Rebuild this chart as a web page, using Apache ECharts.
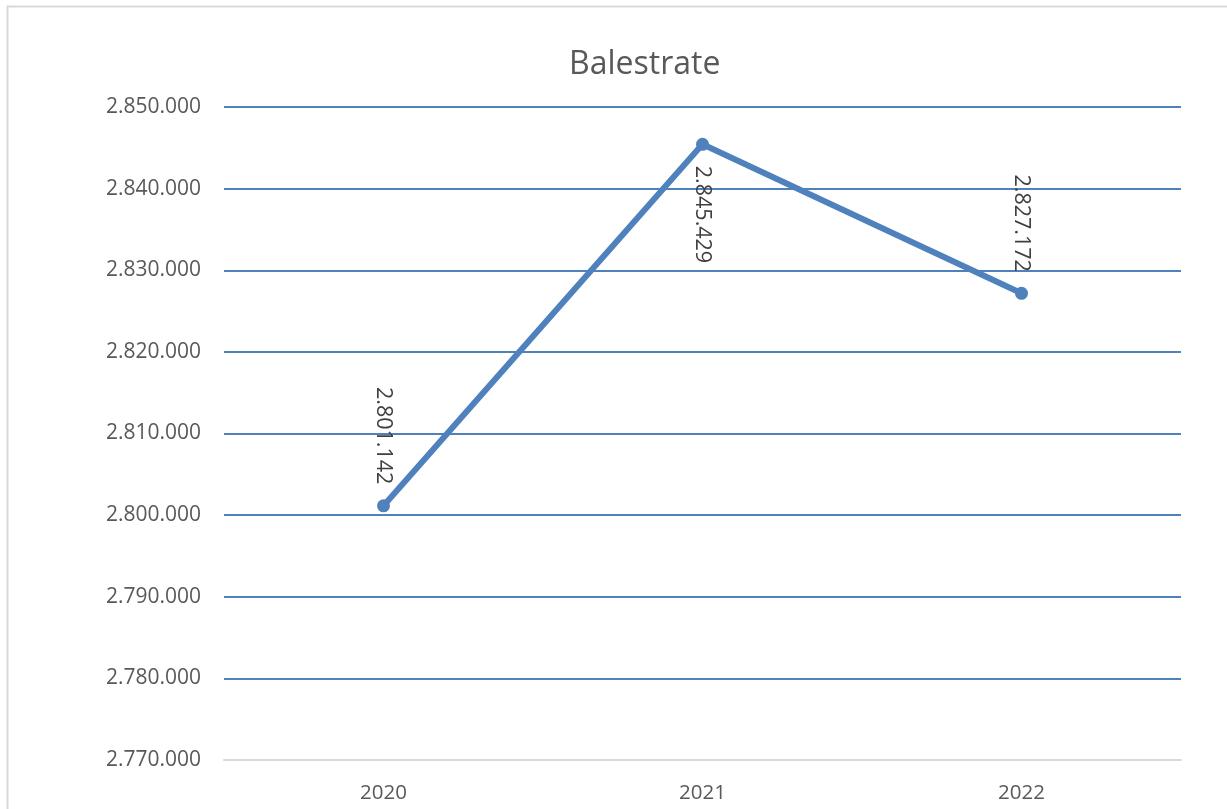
<!DOCTYPE html>
<html>
<head>
<meta charset="utf-8">
<script src="https://cdn.jsdelivr.net/npm/echarts@6/dist/echarts.min.js"></script>
<style>
html,body{margin:0;padding:0;background:#fff;}
#c{width:1227px;height:809px;}
</style>
</head>
<body>
<div id="c"></div>
<script>
const titleText = 'Balestrate';
const categories = ['2020', '2021', '2022'];
const values = [2801142, 2845429, 2827172];
const labelPositions = ['top', 'bottom', 'top'];
const yMin = 2770000, yMax = 2850000, yStep = 10000;

function fmt(v) {
  return String(Math.round(v)).replace(/\B(?=(\d{3})+(?!\d))/g, '.');
}

const chart = echarts.init(document.getElementById('c'), null, {renderer: 'canvas'});
const FONT = '"Open Sans", "Noto Sans", sans-serif';
const BLUE = '#4f81bd';

chart.setOption({
  animation: false,
  backgroundColor: '#fff',
  title: {
    text: titleText,
    left: 564,
    top: 44,
    textStyle: {fontFamily: FONT, fontSize: 32, fontWeight: 'normal', color: '#595959'}
  },
  graphic: [{
    type: 'rect',
    shape: {x: 7.5, y: 6.5, width: 1240, height: 830},
    style: {fill: 'none', stroke: '#d9d9d9', lineWidth: 2},
    silent: true
  }],
  grid: {left: 224, right: 46, top: 107, bottom: 49},
  xAxis: {
    type: 'category',
    data: categories,
    boundaryGap: true,
    axisLine: {lineStyle: {color: '#d9d9d9', width: 2}},
    axisTick: {show: false},
    axisLabel: {fontFamily: FONT, fontSize: 20.5, color: '#595959', margin: 23}
  },
  yAxis: {
    type: 'value',
    min: yMin, max: yMax, interval: yStep,
    axisLine: {show: false},
    axisTick: {show: false},
    splitLine: {lineStyle: {color: BLUE, width: 2}},
    axisLabel: {fontFamily: FONT, fontSize: 21, color: '#595959', margin: 23, formatter: fmt}
  },
  series: [{
    type: 'line',
    data: values.map((v, i) => ({
      value: v,
      label: {
        position: labelPositions[i],
        align: labelPositions[i] === 'top' ? 'right' : 'left',
        verticalAlign: 'middle'
      }
    })),
    symbol: 'circle',
    symbolSize: 13,
    lineStyle: {color: BLUE, width: 6},
    itemStyle: {color: BLUE},
    label: {
      show: true,
      rotate: -90,
      distance: 15,
      fontFamily: FONT,
      fontSize: 21.5,
      color: '#404040',
      formatter: p => fmt(p.value)
    }
  }]
});
</script>
</body>
</html>
